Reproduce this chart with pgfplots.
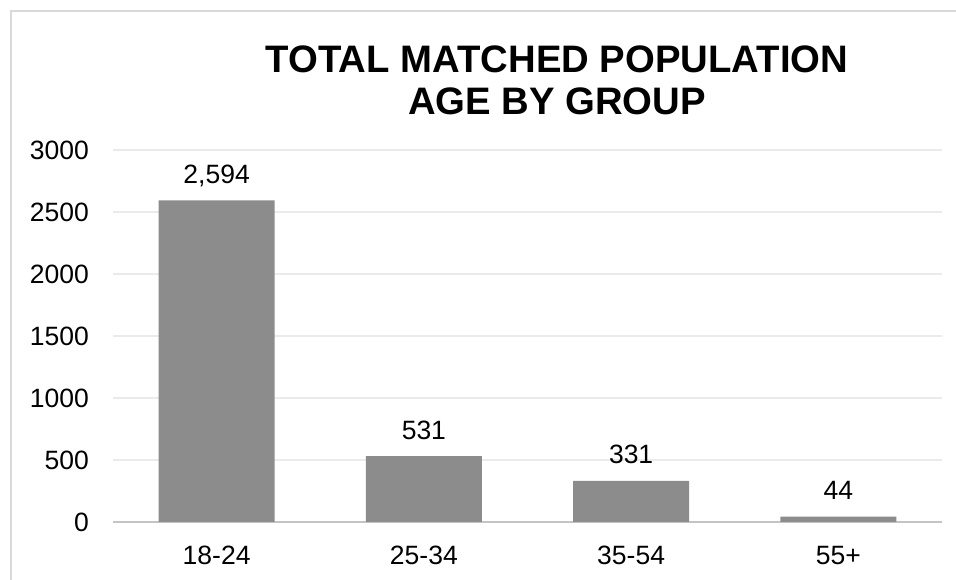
\documentclass[border=0pt]{standalone}
\usepackage{pgfplots}
\pgfplotsset{compat=1.18}
\usepackage{fontspec}
\setmainfont{Liberation Sans}

\definecolor{bargray}{HTML}{8C8C8C}
\definecolor{gridgray}{HTML}{EBEBEB}
\definecolor{axisgray}{HTML}{C4C4C4}
\definecolor{framegray}{HTML}{D9D9D9}

\begin{document}
\begin{tikzpicture}[x=1pt,y=1pt]
  % page area and chart frame
  \path[use as bounding box] (0,0) rectangle (956,580);
  \fill[white] (0,0) rectangle (956,580);
  \draw[framegray, line width=2pt] (11,-2) -- (11,568.5) -- (958,568.5);

  % title
  \node[anchor=base, inner sep=0pt, font=\fontsize{38.3}{40}\selectfont\bfseries]
    at (557,507) {TOTAL MATCHED POPULATION};
  \node[anchor=base, inner sep=0pt, font=\fontsize{38.3}{40}\selectfont\bfseries]
    at (557,465) {AGE BY GROUP};

  \begin{axis}[
    at={(113pt,58pt)}, anchor=south west,
    scale only axis,
    width=829pt, height=372pt,
    xmin=-0.5, xmax=3.5,
    ymin=0, ymax=3000,
    ytick={0,500,1000,1500,2000,2500,3000},
    xtick={0,1,2,3},
    xticklabels={18-24,25-34,35-54,55+},
    axis y line*=left,
    y axis line style={draw=none},
    axis x line*=bottom,
    x axis line style={axisgray, line width=2pt, -},
    ymajorgrids,
    grid style={gridgray, line width=1.2pt},
    major tick length=0pt,
    /pgf/number format/assume math mode=true,
    /pgf/number format/1000 sep={},
    tick label style={font=\fontsize{26.5}{29}\selectfont, text=black},
    yticklabel style={anchor=east, inner sep=0pt, xshift=-24pt},
    xticklabel style={anchor=base, inner sep=0pt, yshift=-43pt},
    ybar, bar width=116pt,
    nodes near coords={\pgfmathprintnumber[fixed,precision=0,1000 sep={,}]{\pgfplotspointmeta}},
    every node near coord/.append style={anchor=base, inner sep=0pt, yshift=17pt,
      font=\fontsize{26.5}{29}\selectfont, text=black},
    clip=false,
  ]
    \addplot[fill=bargray, draw=none] coordinates {
      (0,2594) (1,531) (2,331) (3,44)
    };
  \end{axis}
\end{tikzpicture}
\end{document}
